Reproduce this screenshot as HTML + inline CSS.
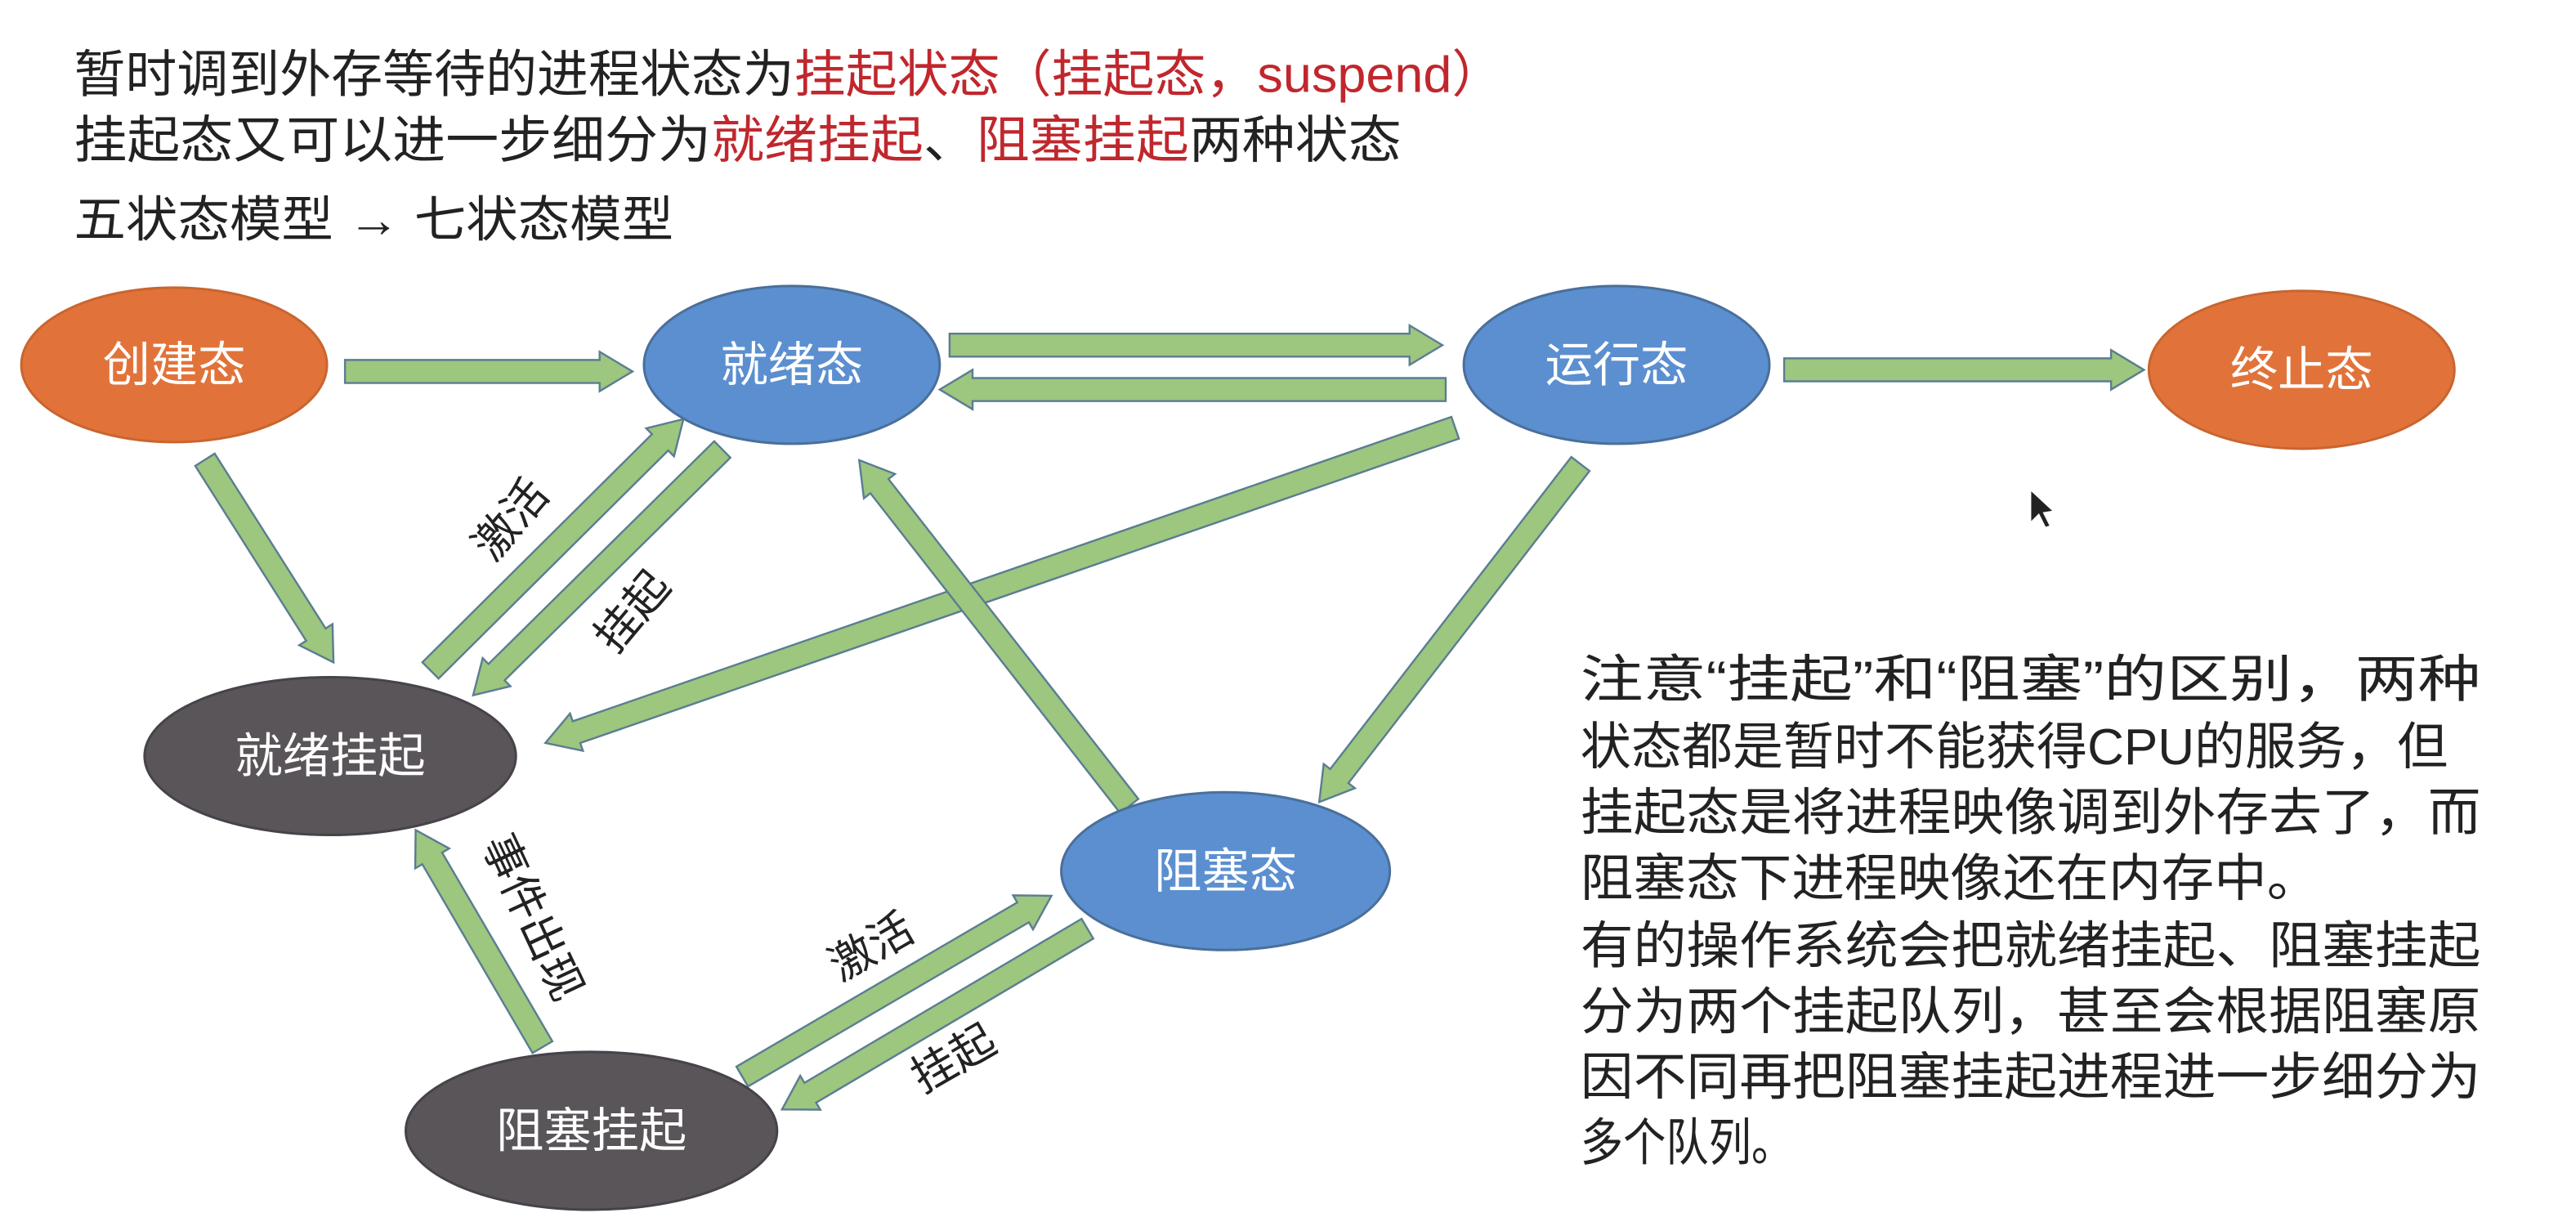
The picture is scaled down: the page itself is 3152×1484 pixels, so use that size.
<!DOCTYPE html>
<html><head><meta charset="utf-8"><style>
html,body{margin:0;padding:0;background:#fff;}
svg{display:block;}
text{font-family:"Liberation Sans","Noto Sans CJK SC",sans-serif;}
</style></head><body>
<svg width="3152" height="1484" viewBox="0 0 1568 738" preserveAspectRatio="none" xmlns="http://www.w3.org/2000/svg">
<rect width="1568" height="738" fill="#fff"/>
<text x="45" y="56" font-size="31" fill="#222" textLength="870" lengthAdjust="spacingAndGlyphs">暂时调到外存等待的进程状态为<tspan fill="#c0272d">挂起状态（挂起态，suspend）</tspan></text>
<text x="45" y="96" font-size="31" fill="#222" textLength="808" lengthAdjust="spacingAndGlyphs">挂起态又可以进一步细分为<tspan fill="#c0272d">就绪挂起</tspan>、<tspan fill="#c0272d">阻塞挂起</tspan>两种状态</text>
<text x="45" y="144" font-size="30" fill="#222" textLength="365" lengthAdjust="spacingAndGlyphs">五状态模型 <tspan font-weight="bold">→</tspan> 七状态模型</text>

<g fill="#9dc67e" stroke="#5b7d92" stroke-width="1.2">
<g transform="translate(385,226) rotate(0)"><polygon points="0,0 -20,-12 -20,-7 -175,-7 -175,7 -20,7 -20,12"/></g>
<g transform="translate(878,210) rotate(0)"><polygon points="0,0 -20,-12 -20,-7 -300,-7 -300,7 -20,7 -20,12"/></g>
<g transform="translate(572,237) rotate(180)"><polygon points="0,0 -20,-12 -20,-7 -308,-7 -308,7 -20,7 -20,12"/></g>
<g transform="translate(1305,225) rotate(0)"><polygon points="0,0 -20,-12 -20,-7 -219,-7 -219,7 -20,7 -20,12"/></g>
<g transform="translate(203,403) rotate(57.6)"><polygon points="0,0 -20,-12 -20,-7 -146,-7 -146,7 -20,7 -20,12"/></g>
<g transform="translate(416,255) rotate(-44.8)"><polygon points="0,0 -20,-12 -20,-7 -217,-7 -217,7 -20,7 -20,12"/></g>
<g transform="translate(288,423) rotate(135.4)"><polygon points="0,0 -20,-12 -20,-7 -213,-7 -213,7 -20,7 -20,12"/></g>
<g transform="translate(332,452) rotate(160.9)"><polygon points="0,0 -20,-12 -20,-7 -586,-7 -586,7 -20,7 -20,12"/></g>
<g transform="translate(803,488) rotate(127.7)"><polygon points="0,0 -20,-12 -20,-7 -260,-7 -260,7 -20,7 -20,12"/></g>
<g transform="translate(523,280) rotate(-128)"><polygon points="0,0 -20,-12 -20,-7 -267,-7 -267,7 -20,7 -20,12"/></g>
<g transform="translate(253,505) rotate(-120.3)"><polygon points="0,0 -20,-12 -20,-7 -153,-7 -153,7 -20,7 -20,12"/></g>
<g transform="translate(640,545) rotate(-30.3)"><polygon points="0,0 -20,-12 -20,-7 -218,-7 -218,7 -20,7 -20,12"/></g>
<g transform="translate(476,675) rotate(149.4)"><polygon points="0,0 -20,-12 -20,-7 -216,-7 -216,7 -20,7 -20,12"/></g>
</g>

<g stroke="#4a6f9a" stroke-width="1.5">
<ellipse cx="106" cy="222" rx="93" ry="47" fill="#e1733a" stroke="#c9652f"/>
<ellipse cx="482" cy="222" rx="90" ry="48" fill="#5b8fd0"/>
<ellipse cx="984" cy="222" rx="93" ry="48" fill="#5b8fd0"/>
<ellipse cx="1401" cy="225" rx="93" ry="48" fill="#e1733a" stroke="#c9652f"/>
<ellipse cx="201" cy="460" rx="113" ry="48" fill="#5a5558" stroke="#46434a"/>
<ellipse cx="746" cy="530" rx="100" ry="48" fill="#5b8fd0"/>
<ellipse cx="360" cy="688" rx="113" ry="48" fill="#5a5558" stroke="#46434a"/>
</g>
<g fill="#fff" font-size="29" text-anchor="middle">
<text x="106" y="232">创建态</text>
<text x="482" y="232">就绪态</text>
<text x="984" y="232">运行态</text>
<text x="1401" y="235">终止态</text>
<text x="201" y="470">就绪挂起</text>
<text x="746" y="540">阻塞态</text>
<text x="360" y="698">阻塞挂起</text>
</g>

<g fill="#222" font-size="27" text-anchor="middle">
<text transform="translate(318,322) rotate(-50)">激活</text>
<text transform="translate(392,378) rotate(-50)">挂起</text>
<text transform="translate(316,562) rotate(65)">事件出现</text>
<text transform="translate(535,584) rotate(-30)">激活</text>
<text transform="translate(585,652) rotate(-30)">挂起</text>
</g>

<polygon points="1236,298 1236,318 1241,313 1245,321 1248,320 1244,312 1250,311" fill="#222" stroke="#fff" stroke-width="0.8"/>

<g fill="#222" font-size="31">
<text x="962" y="424" textLength="548" lengthAdjust="spacingAndGlyphs">注意“挂起”和“阻塞”的区别，两种</text>
<text x="962" y="465" textLength="528" lengthAdjust="spacingAndGlyphs">状态都是暂时不能获得CPU的服务，但</text>
<text x="962" y="505" textLength="548" lengthAdjust="spacingAndGlyphs">挂起态是将进程映像调到外存去了，而</text>
<text x="962" y="545" textLength="450" lengthAdjust="spacingAndGlyphs">阻塞态下进程映像还在内存中。</text>
<text x="962" y="586" textLength="548" lengthAdjust="spacingAndGlyphs">有的操作系统会把就绪挂起、阻塞挂起</text>
<text x="962" y="626" textLength="548" lengthAdjust="spacingAndGlyphs">分为两个挂起队列，甚至会根据阻塞原</text>
<text x="962" y="666" textLength="548" lengthAdjust="spacingAndGlyphs">因不同再把阻塞挂起进程进一步细分为</text>
<text x="962" y="706" textLength="130" lengthAdjust="spacingAndGlyphs">多个队列。</text>
</g>
</svg>
</body></html>
